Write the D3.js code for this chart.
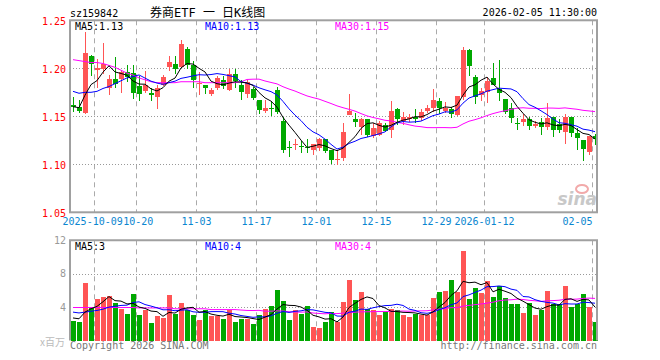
<!DOCTYPE html>
<html><head><meta charset="utf-8">
<script src="https://cdn.jsdelivr.net/npm/d3@7/dist/d3.min.js"></script>
<style>body{margin:0;background:#fff}svg{display:block}</style>
</head><body><svg id="c" width="660" height="360"></svg>
<script>
const dates = ["2025-09-25","2025-09-26","2025-09-29","2025-09-30",
"2025-10-09","2025-10-10","2025-10-13","2025-10-14","2025-10-15","2025-10-16","2025-10-17","2025-10-20","2025-10-21","2025-10-22","2025-10-23","2025-10-24","2025-10-27","2025-10-28","2025-10-29","2025-10-30","2025-10-31",
"2025-11-03","2025-11-04","2025-11-05","2025-11-06","2025-11-07","2025-11-10","2025-11-11","2025-11-12","2025-11-13","2025-11-14","2025-11-17","2025-11-18","2025-11-19","2025-11-20","2025-11-21","2025-11-24","2025-11-25","2025-11-26","2025-11-27","2025-11-28",
"2025-12-01","2025-12-02","2025-12-03","2025-12-04","2025-12-05","2025-12-08","2025-12-09","2025-12-10","2025-12-11","2025-12-12","2025-12-15","2025-12-16","2025-12-17","2025-12-18","2025-12-19","2025-12-22","2025-12-23","2025-12-24","2025-12-25","2025-12-26","2025-12-29","2025-12-30","2025-12-31",
"2026-01-05","2026-01-06","2026-01-07","2026-01-08","2026-01-09","2026-01-12","2026-01-13","2026-01-14","2026-01-15","2026-01-16","2026-01-19","2026-01-20","2026-01-21","2026-01-22","2026-01-23","2026-01-26","2026-01-27","2026-01-28","2026-01-29","2026-01-30",
"2026-02-02","2026-02-03","2026-02-04","2026-02-05"];

const openP = [1.162,1.160,1.153,1.213,1.198,1.199,1.179,1.189,1.189,1.196,1.195,1.182,1.176,1.174,1.170,1.183,1.201,1.204,1.201,1.220,1.203,1.184,1.183,1.173,1.180,1.188,1.177,1.194,1.183,1.173,
1.178,1.167,1.156,1.159,1.177,1.145,1.118,1.120,1.119,1.118,1.115,1.117,1.126,1.115,1.104,1.107,1.151,1.147,1.139,1.147,1.130,1.131,1.141,1.136,1.158,1.145,1.147,1.149,1.148,1.156,
1.159,1.166,1.156,1.158,1.151,1.170,1.219,1.191,1.172,1.175,1.190,1.178,1.168,1.159,1.143,1.144,1.147,1.140,1.144,1.139,1.149,1.142,1.134,1.149,1.133,1.125,1.113,1.129];
const highP = [1.170,1.167,1.238,1.214,1.210,1.226,1.193,1.212,1.198,1.203,1.203,1.192,1.197,1.180,1.183,1.193,1.213,1.213,1.229,1.222,1.208,1.196,1.183,1.180,1.192,1.192,1.199,1.199,1.188,1.188,
1.181,1.167,1.167,1.166,1.181,1.149,1.124,1.126,1.124,1.126,1.121,1.127,1.126,1.115,1.114,1.143,1.173,1.153,1.148,1.147,1.143,1.145,1.143,1.166,1.159,1.155,1.152,1.158,1.158,1.162,
1.178,1.169,1.165,1.160,1.171,1.222,1.220,1.193,1.180,1.191,1.206,1.209,1.168,1.164,1.148,1.152,1.149,1.145,1.148,1.164,1.149,1.147,1.152,1.149,1.138,1.125,1.130,1.132];
const lowP = [1.155,1.153,1.152,1.192,1.180,1.194,1.172,1.179,1.174,1.186,1.168,1.166,1.174,1.166,1.158,1.182,1.197,1.194,1.200,1.199,1.180,1.172,1.173,1.171,1.177,1.178,1.176,1.180,1.167,1.169,
1.167,1.152,1.153,1.150,1.152,1.112,1.108,1.115,1.112,1.112,1.110,1.114,1.112,1.100,1.099,1.103,1.151,1.139,1.131,1.128,1.127,1.129,1.134,1.127,1.141,1.141,1.144,1.143,1.145,1.153,
1.155,1.152,1.153,1.148,1.150,1.167,1.192,1.163,1.166,1.164,1.183,1.166,1.152,1.143,1.136,1.140,1.136,1.138,1.131,1.136,1.128,1.133,1.121,1.128,1.115,1.103,1.110,1.120];
const closeP = [1.160,1.156,1.216,1.204,1.200,1.204,1.189,1.184,1.196,1.191,1.174,1.173,1.183,1.172,1.180,1.191,1.207,1.199,1.225,1.203,1.188,1.185,1.180,1.177,1.190,1.182,1.194,1.187,1.175,1.186,
1.169,1.157,1.159,1.158,1.155,1.115,1.117,1.121,1.118,1.117,1.121,1.126,1.114,1.104,1.106,1.134,1.156,1.144,1.147,1.131,1.138,1.143,1.135,1.156,1.147,1.149,1.149,1.147,1.155,1.159,
1.167,1.159,1.159,1.152,1.171,1.219,1.202,1.170,1.176,1.187,1.183,1.174,1.155,1.148,1.142,1.147,1.140,1.142,1.139,1.148,1.136,1.136,1.149,1.133,1.127,1.116,1.130,1.126];
const volume = [2.38,2.26,6.87,4.0,4.93,5.17,5.33,4.44,3.72,3.23,5.54,3.11,3.6,2.14,2.9,2.75,5.41,3.23,4.44,3.68,3.11,2.5,3.64,2.9,2.95,2.63,3.6,2.26,2.63,2.63,
2.02,3.0,3.72,4.12,6.02,4.69,2.5,3.6,3.23,4.12,1.66,1.54,2.26,3.47,2.2,4.57,7.23,4.8,5.78,3.72,3.6,3.0,3.43,3.72,3.6,3.11,2.87,3.23,3.0,3.0,
5.05,5.78,5.9,7.23,5.78,10.75,4.93,6.26,5.66,7.11,5.17,6.5,5.05,4.32,4.32,3.35,4.44,3.0,3.6,5.9,4.32,4.32,6.5,3.96,4.32,5.54,3.96,2.22];

// moving-average values before enough visible days exist
const ma5Head = [1.160,1.159,1.172,1.183];
const ma10Head = [1.176,1.174,1.175,1.175,1.176,1.179,1.181,1.184,1.187];
const ma30Head = [1.209,1.208,1.207,1.206,1.206,1.205,1.203,1.201,1.198,1.195,1.193,1.190,1.188,1.186,1.185,1.185,1.185,1.185,1.186,1.186,1.186,1.186,1.185,1.185,1.185,1.185,1.185,1.185,1.186];
const vma5Head = [2.7,2.6,3.4,3.8];
const vma10Head = [3.4,3.3,3.4,3.5,3.6,3.75,4.0,4.1,4.2];
const vma30Head = [3.95,3.95,3.95,3.95,3.95,3.95,3.95,3.95,3.95,3.95,3.95,3.9,3.9,3.9,3.9,3.9,3.9,3.8,3.8,3.8,3.8,3.8,3.8,3.7,3.7,3.7,3.7,3.7,3.65];

const tickDates = ["2025-10-09","2025-10-20","2025-11-03","2025-11-17","2025-12-01","2025-12-15","2025-12-29","2026-01-12","2026-02-05"];
const tickLabels = ["2025-10-09","10-20","11-03","11-17","12-01","12-15","12-29","2026-01-12","02-05"];
const priceTicks = [1.05,1.10,1.15,1.20,1.25];
const priceGrid = [1.10,1.15,1.20];
const volTicks = [4,8,12];
const volGrid = [4,8];
const maLabels = ["MA5:1.13","MA10:1.13","MA30:1.15"];
const vmaLabels = ["MA5:3","MA10:4","MA30:4"];

const RED = "#ff5555", GREEN = "#00a800", MA_COL = ["#000000","#0000ff","#ff00ff"];
const MONO = "'DejaVu Sans Mono', monospace";

function ma(arr, n, head){ return arr.map((_, i) => i < n - 1 ? head[i] : d3.mean(arr.slice(i - n + 1, i + 1))); }

const svg = d3.select("#c");
const L = 70, R = 597;
const x = d3.scaleBand().domain(dates).range([L, L + 6 * dates.length]);
const cx = d => x(d) + x.bandwidth() / 2;
const y = d3.scaleLinear().domain([1.05, 1.25]).range([212.3, 20.3]);
const yv = d3.scaleLinear().domain([0, 12]).range([340.5, 240.3]);
const PT = y(1.25), PB = y(1.05), VT = yv(12), VB = yv(0);

// header texts
svg.append("text").attr("x", 70).attr("y", 13).attr("dominant-baseline","central")
  .attr("font-family", MONO).attr("font-size", 10).attr("fill", "#000").text("sz159842");
svg.append("text").attr("x", 150).attr("y", 12.5).attr("dominant-baseline","central")
  .attr("font-family", "'DejaVu Sans Mono','Noto Sans CJK SC'").attr("font-size", 12).attr("fill", "#000").text("券商ETF 一 日K线图");
svg.append("text").attr("x", R).attr("y", 12.5).attr("dominant-baseline","central").attr("text-anchor","end")
  .attr("font-family", MONO).attr("font-size", 10).attr("fill", "#000").text("2026-02-05 11:30:00");

// grids
const gx = d => Math.round(x(d)) + 0.5;
const g = svg.append("g");
tickDates.forEach(d => {
  g.append("line").attr("x1", gx(d)).attr("x2", gx(d)).attr("y1", PT).attr("y2", PB)
    .attr("stroke", "#aaa").attr("stroke-dasharray", "5,4");
  g.append("line").attr("x1", gx(d)).attr("x2", gx(d)).attr("y1", VT).attr("y2", VB)
    .attr("stroke", "#aaa").attr("stroke-dasharray", "5,4");
});
priceGrid.forEach(p => g.append("line").attr("x1", L).attr("x2", R).attr("y1", Math.round(y(p)) + 0.5).attr("y2", Math.round(y(p)) + 0.5)
  .attr("stroke", "#999").attr("stroke-dasharray", "1,2"));
volGrid.forEach(v => g.append("line").attr("x1", L).attr("x2", R).attr("y1", Math.round(yv(v)) + 0.5).attr("y2", Math.round(yv(v)) + 0.5)
  .attr("stroke", "#999").attr("stroke-dasharray", "1,2"));

// sina watermark
svg.append("ellipse").attr("cx", 582).attr("cy", 189).attr("rx", 6).attr("ry", 4)
  .attr("fill", "none").attr("stroke", "#f2aaaa").attr("stroke-width", 2);
svg.append("text").attr("x", 597).attr("y", 205).attr("text-anchor", "end")
  .attr("font-family", "'DejaVu Sans', sans-serif").attr("font-weight", "bold").attr("font-style", "italic")
  .attr("font-size", 17).attr("fill", "#c8c8c8").text("sina");

// candles and volume bars
const cg = svg.append("g").attr("shape-rendering", "crispEdges");
dates.forEach((d, i) => {
  const o = openP[i], c = closeP[i], col = c >= o ? RED : GREEN;
  const xc = Math.round(cx(d));
  cg.append("line").attr("x1", xc + 0.5).attr("x2", xc + 0.5).attr("y1", y(highP[i])).attr("y2", y(lowP[i])).attr("stroke", col);
  const top = y(Math.max(o, c)), bot = y(Math.min(o, c));
  cg.append("rect").attr("x", xc - 2).attr("width", 5).attr("y", top).attr("height", Math.max(1, bot - top)).attr("fill", col);
  cg.append("rect").attr("x", xc - 2).attr("width", 5).attr("y", yv(volume[i])).attr("height", yv(0) - yv(volume[i])).attr("fill", col);
});

// MA lines
const pMA = [ma(closeP, 5, ma5Head), ma(closeP, 10, ma10Head), ma(closeP, 30, ma30Head)];
const vMA = [ma(volume, 5, vma5Head), ma(volume, 10, vma10Head), ma(volume, 30, vma30Head)];
const lineP = d3.line().x((v, i) => cx(dates[i])).y(v => y(v));
const lineV = d3.line().x((v, i) => cx(dates[i])).y(v => yv(v));
[2, 1, 0].forEach(k => {
  svg.append("path").attr("d", lineP(pMA[k])).attr("fill", "none").attr("stroke", MA_COL[k]).attr("stroke-width", 1);
  svg.append("path").attr("d", lineV(vMA[k])).attr("fill", "none").attr("stroke", MA_COL[k]).attr("stroke-width", 1);
});

// frames
const fr = svg.append("g").attr("stroke", "#a0a0a0").attr("stroke-width", 2).attr("fill", "none");
fr.append("rect").attr("x", L).attr("y", PT).attr("width", R - L).attr("height", PB - PT);
fr.append("path").attr("d", `M${L},${VB}V${VT}H${R}V${VB}`);

// MA labels
const labX = [75, 205, 335];
maLabels.forEach((t, k) => svg.append("text").attr("x", labX[k]).attr("y", 26.5).attr("dominant-baseline","central")
  .attr("font-family", MONO).attr("font-size", 10).attr("fill", MA_COL[k]).text(t));
vmaLabels.forEach((t, k) => svg.append("text").attr("x", labX[k]).attr("y", 246.5).attr("dominant-baseline","central")
  .attr("font-family", MONO).attr("font-size", 10).attr("fill", MA_COL[k]).text(t));

// price axis labels
priceTicks.forEach(p => svg.append("text").attr("x", 66).attr("y", y(p) + 1).attr("dominant-baseline","central").attr("text-anchor","end")
  .attr("font-family", MONO).attr("font-size", 10).attr("fill", "#ff0000").text(p.toFixed(2)));
volTicks.forEach(v => svg.append("text").attr("x", 66).attr("y", yv(v)).attr("dominant-baseline","central").attr("text-anchor","end")
  .attr("font-family", MONO).attr("font-size", 10).attr("fill", "#999").text(v));
svg.append("text").attr("x", 65).attr("y", 341).attr("dominant-baseline","central").attr("text-anchor","end")
  .attr("font-family", "'Noto Sans CJK SC'").attr("font-size", 10).attr("fill", "#bbb").text("x百万");

// date labels: centred on the grid line, kept inside the frame and apart from each other
const CW = 6.02;
const boxes = tickDates.map((d, k) => {
  const w = tickLabels[k].length * CW, xx = gx(d);
  let left = xx - w / 2;
  if (left + w > R - 5) left = xx - w;
  return {left, w};
});
for (let k = 1; k < boxes.length; k++) {
  const prev = boxes[k - 1], cur = boxes[k];
  const ov = prev.left + prev.w - cur.left;
  if (ov > -0.5) { prev.left -= (ov + 0.5) / 2; cur.left += (ov + 0.5) / 2; }
}
boxes.forEach((b, k) => svg.append("text").attr("x", b.left).attr("y", 221.5).attr("dominant-baseline","central")
  .attr("font-family", MONO).attr("font-size", 10).attr("fill", "#0a86d0").text(tickLabels[k]));

// footer
svg.append("text").attr("x", 70).attr("y", 345.5).attr("dominant-baseline","central")
  .attr("font-family", MONO).attr("font-size", 10).attr("fill", "#777").text("Copyright 2026 SINA.COM");
svg.append("text").attr("x", R).attr("y", 345.5).attr("dominant-baseline","central").attr("text-anchor","end")
  .attr("font-family", MONO).attr("font-size", 10).attr("fill", "#777").text("http://finance.sina.com.cn");
</script></body></html>
